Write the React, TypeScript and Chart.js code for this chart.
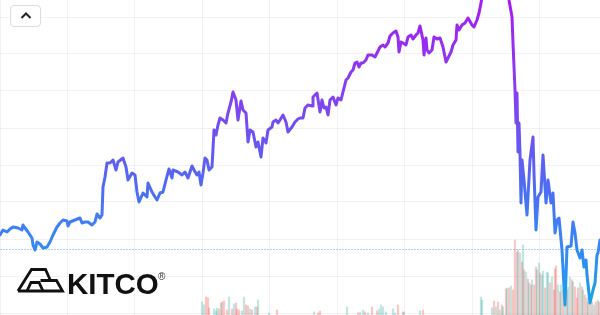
import React, { useEffect, useRef } from "react";
import { Chart, registerables } from "chart.js";

Chart.register(...registerables);

// Price series (day index, price)
const days = [0,3,7,10,13,18,22,23,25,28,32,33,35,37,40,43,47,50,53,57,60,63,67,68,70,75,80,82,85,88,92,95,97,100,102,103,105,107,110,113,116,118,123,126,128,132,135,137,139,143,147,148,152,155,157,160,163,166,169,172,173,178,182,185,188,192,194,197,199,201,203,205,207,209,212,214,216,218,220,223,226,228,231,233,236,238,241,243,246,248,250,253,256,258,261,263,266,268,272,273,276,278,280,283,286,288,292,295,298,300,303,305,308,312,313,317,320,322,324,326,328,330,333,336,338,341,343,346,348,351,353,355,357,359,361,363,366,368,372,375,377,380,383,385,388,390,393,396,398,399,401,403,406,408,411,413,416,418,420,423,424,426,427,429,432,434,437,440,443,446,448,451,453,456,457,459,462,465,468,472,474,477,479,481,483,487,492,497,502,506,509,512,513,515,516,517,518,519,520,521,522,524,527,530,533,534,536,538,541,543,546,548,551,553,555,557,559,562,565,567,571,573,575,577,580,582,584,586,587,590,593,595,597,598,600];
const prices = [78,83,81,84,86,85,83,88,85,81,75,68,63,71,69,65,66,71,78,86,90,93,92,87,91,93,95,90,91,91,88,91,99,95,98,126,136,150,150,153,143,151,155,146,133,140,138,121,111,120,116,130,121,116,113,120,121,133,144,135,143,141,138,141,135,147,143,138,141,128,140,155,153,143,146,183,178,188,195,193,190,200,211,221,213,193,212,203,200,171,183,181,166,171,156,175,170,183,186,191,193,190,193,198,191,181,186,191,194,195,195,205,208,207,216,220,201,213,205,206,198,213,216,208,215,213,221,233,235,241,243,250,251,246,250,250,253,258,258,256,260,266,268,266,270,277,280,282,276,261,271,270,268,276,278,274,278,280,287,273,258,275,263,260,263,276,274,275,266,251,255,261,268,273,288,283,288,290,295,288,286,293,300,310,321,335,343,348,343,328,313,296,270,223,190,220,161,190,160,110,153,133,98,153,176,140,83,116,121,158,110,133,110,120,80,93,95,63,8,66,67,91,80,63,55,63,46,53,38,10,23,30,58,60,73];
const referencePrice = 63.5;

// Volume series
const volDays = [202,204,206,208,209,214,216,217,219,221,222,224,227,229,232,234,236,237,239,242,244,246,248,250,252,255,257,258,269,277,314,318,320,347,358,360,363,365,368,372,377,379,381,383,386,393,395,398,403,404,420,423,481,482,492,494,496,498,500,502,503,506,507,509,511,513,515,517,518,520,522,523,524,526,528,529,531,532,534,536,537,539,540,542,543,545,547,548,550,552,554,555,556,558,560,561,563,565,567,568,570,572,573,575,577,578,580,582,583,585,587,588,590,592,594,596,598,599];
const volumes = [13,10,18,17,7,6,4,7,6,12,13,14,5,18,6,11,12,6,5,4,18,10,9,6,5,8,8,15,2,5,3,2,4,8,2,3,5,3,2,8,4,6,10,8,3,6,2,10,3,3,4,5,18,15,7,14,8,13,5,10,8,26,27,27,29,25,75,63,65,62,53,70,45,43,36,32,30,35,30,48,45,52,42,40,44,27,43,42,32,38,25,46,49,30,23,30,25,21,25,28,38,35,33,28,17,27,32,28,25,20,17,13,12,13,10,13,15,13];
const volUp = [1,1,0,0,0,1,1,1,0,1,0,0,0,1,0,1,0,0,0,1,1,0,0,1,0,1,0,1,1,0,1,0,0,1,0,1,1,0,1,0,0,1,1,1,1,1,1,0,0,1,1,0,1,1,1,0,1,0,1,0,1,0,1,0,1,0,0,1,0,1,0,1,0,1,0,1,0,1,0,0,1,1,0,1,1,0,1,1,0,1,0,0,0,1,0,1,0,1,0,1,1,0,1,0,0,0,1,0,1,0,1,0,1,0,1,0,1,0];

// Grid positions
const gridDays = [0, 67.4, 134.9, 202.3, 269.7, 337.1, 404.6, 472, 539.4];
const gridPrices = [0, 37, 74, 111, 148, 185, 222, 259, 296];

export default function App() {
  const ref = useRef<HTMLCanvasElement | null>(null);

  useEffect(() => {
    document.body.style.margin = "0";
    const canvas = ref.current;
    if (!canvas) return;
    const lineColor = (c: any) => {
      const chart = c.chart;
      const area = chart.chartArea;
      if (!area) return "#3b82f6";
      const g = chart.ctx.createLinearGradient(0, area.top, 0, area.bottom);
      g.addColorStop(0, "#a61cf2");
      g.addColorStop(0.3, "#8540f0");
      g.addColorStop(0.48, "#6459f2");
      g.addColorStop(0.62, "#4a70f2");
      g.addColorStop(0.74, "#3b82f4");
      g.addColorStop(0.87, "#2a92ee");
      g.addColorStop(1, "#10aae6");
      return g;
    };
    const chart = new Chart(canvas, {
      type: "line",
      data: {
        datasets: [
          {
            type: "line",
            data: days.map((d, i) => ({ x: d, y: prices[i] })),
            borderColor: lineColor,
            borderWidth: 3,
            pointRadius: 0,
            tension: 0,
            borderJoinStyle: "round",
            borderCapStyle: "round",
            yAxisID: "y",
            order: 1,
          } as any,
          {
            type: "line",
            data: [
              { x: 0, y: referencePrice },
              { x: 600, y: referencePrice },
            ],
            borderColor: "rgba(96,170,245,0.55)",
            borderWidth: 1,
            borderDash: [2, 1],
            pointRadius: 0,
            yAxisID: "y",
            order: 2,
          } as any,
          {
            type: "bar",
            data: volDays.map((d, i) => ({ x: d, y: volumes[i] })),
            backgroundColor: volUp.map((u) =>
              u ? "rgba(38,166,154,0.28)" : "rgba(239,83,80,0.32)"
            ),
            barThickness: 1.6,
            grouped: false,
            yAxisID: "vol",
            order: 3,
          } as any,
        ],
      },
      options: {
        animation: false,
        responsive: false,
        maintainAspectRatio: false,
        layout: { padding: 0 },
        plugins: { legend: { display: false }, tooltip: { enabled: false } },
        scales: {
          x: {
            type: "linear",
            min: 0,
            max: 600,
            offset: false,
            afterBuildTicks: (s: any) => {
              s.ticks = gridDays.map((v) => ({ value: v }));
            },
            ticks: { display: false },
            grid: { color: "rgba(0,0,0,0.05)", drawTicks: false, offset: false },
            border: { display: false },
          },
          y: {
            type: "linear",
            min: -2,
            max: 313,
            afterBuildTicks: (s: any) => {
              s.ticks = gridPrices.map((v) => ({ value: v }));
            },
            ticks: { display: false },
            grid: { color: "rgba(0,0,0,0.05)", drawTicks: false },
            border: { display: false },
          },
          vol: {
            type: "linear",
            display: false,
            min: 0,
            max: 315,
          },
        },
      } as any,
    });
    return () => chart.destroy();
  }, []);

  return (
    <div
      style={{
        position: "fixed",
        left: 0,
        top: 0,
        width: 600,
        height: 315,
        background: "#fff",
        overflow: "hidden",
      }}
    >
      <canvas ref={ref} width={600} height={315} style={{ display: "block" }} />
      <svg
        width={600}
        height={315}
        style={{ position: "absolute", left: 0, top: 0, pointerEvents: "none" }}
      >
        <g fill="none" stroke="#111" strokeWidth={2.8} strokeLinejoin="miter">
          <path d="M18,291 L31.5,269.5 L45.5,269.5 L50,279.5" />
          <path d="M40.5,280.5 L56.5,280.5 L62.5,291 L18,291" />
          <path d="M27,291 L31,282.5 L39,282.5 L43,291" />
        </g>
        <text
          x={67}
          y={293.5}
          fontFamily="Liberation Sans, Arial, sans-serif"
          fontWeight="bold"
          fontSize={29.5}
          fill="#111"
        >
          KITCO
        </text>
        <text
          x={158}
          y={280}
          fontFamily="Liberation Sans, Arial, sans-serif"
          fontSize={10}
          fill="#333"
        >
          ®
        </text>
      </svg>
      <div
        style={{
          position: "absolute",
          left: 10,
          top: 5,
          width: 31,
          height: 22,
          boxSizing: "border-box",
          border: "1px solid #dcdcdc",
          borderRadius: 4,
          background: "#fff",
        }}
      >
        <svg width={29} height={20} style={{ display: "block" }}>
          <polyline
            points="10.5,12 15,7.5 19.5,12"
            fill="none"
            stroke="#222"
            strokeWidth={2}
          />
        </svg>
      </div>
    </div>
  );
}
